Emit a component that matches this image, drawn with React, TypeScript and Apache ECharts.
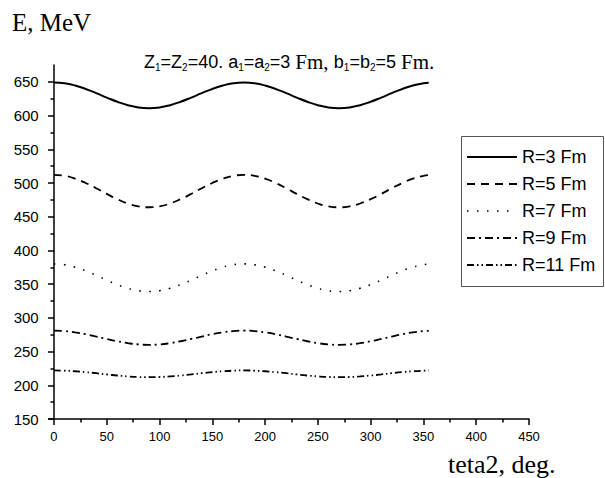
import React, { useEffect, useRef } from 'react';
import * as echarts from 'echarts';

// teta2, deg.
const angles = [0, 10, 20, 30, 40, 50, 60, 70, 80, 90, 100, 110, 120, 130, 140, 150, 160, 170,
  180, 190, 200, 210, 220, 230, 240, 250, 260, 270, 280, 290, 300, 310, 320, 330, 340, 350, 355];

// E, MeV
const r3 = [649, 647.9, 644.6, 639.5, 633.3, 626.7, 620.5, 615.4, 612.1, 611, 612.1, 615.4, 620.5, 626.7, 633.3, 639.5, 644.6, 647.9,
  649, 647.9, 644.6, 639.5, 633.3, 626.7, 620.5, 615.4, 612.1, 611, 612.1, 615.4, 620.5, 626.7, 633.3, 639.5, 644.6, 647.9, 648.7];
const r5 = [512, 510.6, 506.4, 500, 492.2, 483.8, 476, 469.6, 465.4, 464, 465.4, 469.6, 476, 483.8, 492.2, 500, 506.4, 510.6,
  512, 510.6, 506.4, 500, 492.2, 483.8, 476, 469.6, 465.4, 464, 465.4, 469.6, 476, 483.8, 492.2, 500, 506.4, 510.6, 511.6];
const r7 = [380, 378.8, 375.2, 369.8, 363.1, 355.9, 349.3, 343.8, 340.2, 339, 340.2, 343.8, 349.3, 355.9, 363.1, 369.8, 375.2, 378.8,
  380, 378.8, 375.2, 369.8, 363.1, 355.9, 349.3, 343.8, 340.2, 339, 340.2, 343.8, 349.3, 355.9, 363.1, 369.8, 375.2, 378.8, 379.7];
const r9 = [281, 280.4, 278.5, 275.8, 272.3, 268.7, 265.3, 262.5, 260.6, 260, 260.6, 262.5, 265.3, 268.7, 272.3, 275.8, 278.5, 280.4,
  281, 280.4, 278.5, 275.8, 272.3, 268.7, 265.3, 262.5, 260.6, 260, 260.6, 262.5, 265.3, 268.7, 272.3, 275.8, 278.5, 280.4, 280.8];
const r11 = [222, 221.7, 220.8, 219.5, 217.9, 216.1, 214.5, 213.2, 212.3, 212, 212.3, 213.2, 214.5, 216.1, 217.9, 219.5, 220.8, 221.7,
  222, 221.7, 220.8, 219.5, 217.9, 216.1, 214.5, 213.2, 212.3, 212, 212.3, 213.2, 214.5, 216.1, 217.9, 219.5, 220.8, 221.7, 221.9];

const seriesNames = ['R=3 Fm', 'R=5 Fm', 'R=7 Fm', 'R=9 Fm', 'R=11 Fm'];
const seriesValues = [r3, r5, r7, r9, r11];

const xMajorTicks = [0, 50, 100, 150, 200, 250, 300, 350, 400, 450];
const xMinorTicks = [25, 75, 125, 175, 225, 275, 325, 375, 425];
const yMajorTicks = [150, 200, 250, 300, 350, 400, 450, 500, 550, 600, 650];
const yMinorTicks = [175, 225, 275, 325, 375, 425, 475, 525, 575, 625];

const lineDashes: (number[] | null)[] = [null, [8, 6], [1.5, 8.5], [8, 4, 2, 4], [7, 3, 1.5, 3, 1.5, 3]];
const lineWidths = [2, 1.8, 1.6, 1.8, 1.8];

const SANS = 'Liberation Sans, Arial, sans-serif';
const SERIF = 'Liberation Serif, Times New Roman, serif';

// legend box layout
const LEG_X = 461;
const LEG_Y = 136;
const LEG_W = 143;
const LEG_H = 151;
const LEG_ROWS = [157, 184, 211, 238, 265];

export default function App() {
  const ref = useRef<HTMLDivElement>(null);
  useEffect(() => {
    document.body.style.margin = '0';
    const chart = echarts.init(ref.current!, null, { renderer: 'svg' });
    const axisLineStyle = { color: '#000', width: 1.5 };

    const legendGraphics: any[] = [
      {
        type: 'rect',
        shape: { x: LEG_X + 0.5, y: LEG_Y + 0.5, width: LEG_W - 1, height: LEG_H - 1 },
        style: { fill: '#fff', stroke: '#555', lineWidth: 1 },
        z: 10,
      },
    ];
    seriesNames.forEach((name, k) => {
      legendGraphics.push({
        type: 'line',
        shape: { x1: LEG_X + 6, y1: LEG_ROWS[k], x2: LEG_X + 56, y2: LEG_ROWS[k] },
        style: { stroke: '#000', lineWidth: lineWidths[k], lineDash: lineDashes[k] || undefined },
        z: 11,
      });
      legendGraphics.push({
        type: 'text',
        x: LEG_X + 61,
        y: LEG_ROWS[k],
        style: { text: name, fill: '#000', font: `18px ${SANS}`, textVerticalAlign: 'middle', textAlign: 'left' },
        z: 11,
      });
    });

    chart.setOption({
      animation: false,
      backgroundColor: '#fff',
      title: [
        {
          text: 'E, MeV',
          left: 12,
          top: 10,
          padding: 0,
          textStyle: { fontFamily: SERIF, fontSize: 25, fontWeight: 'normal', color: '#000' },
        },
        {
          text:
            '{s|Z}{sub|1}{s|=Z}{sub|2}{s|=40. a}{sub|1}{s|=a}{sub|2}{s|=3 }{t|Fm, }{s|b}{sub|1}{s|=b}{sub|2}{s|=5 }{t|Fm.}',
          left: 144,
          top: 51,
          padding: 0,
          textStyle: {
            fontWeight: 'normal',
            rich: {
              s: { fontFamily: SANS, fontSize: 18, fontWeight: 'normal', color: '#000', lineHeight: 21 },
              t: { fontFamily: SERIF, fontSize: 21, fontWeight: 'normal', color: '#000', lineHeight: 21 },
              sub: { fontFamily: SANS, fontSize: 10, fontWeight: 'normal', color: '#000', lineHeight: 10, padding: [11, 0, 0, 0] },
            },
          },
        },
        {
          text: 'teta2, deg.',
          left: 448,
          top: 451,
          padding: 0,
          textStyle: { fontFamily: SERIF, fontSize: 26, fontWeight: 'normal', color: '#000' },
        },
      ],
      graphic: legendGraphics,
      grid: { left: 48.7, right: 76, top: 65, bottom: 59, outerBoundsMode: 'none' },
      xAxis: [
        {
          type: 'value',
          min: -5,
          max: 450,
          position: 'bottom',
          axisLine: { show: true, lineStyle: axisLineStyle },
          axisTick: { show: true, customValues: xMajorTicks, length: 6, lineStyle: axisLineStyle },
          axisLabel: { customValues: xMajorTicks, fontFamily: SANS, fontSize: 13, color: '#000', margin: 11 },
          splitLine: { show: false },
        },
        {
          type: 'value',
          min: -5,
          max: 450,
          position: 'bottom',
          axisLine: { show: false },
          axisTick: { show: true, customValues: xMinorTicks, length: 3.5, lineStyle: axisLineStyle },
          axisLabel: { show: false },
          splitLine: { show: false },
        },
      ],
      yAxis: [
        {
          type: 'value',
          min: 150,
          max: 675,
          position: 'left',
          axisLine: { show: true, lineStyle: axisLineStyle },
          axisTick: { show: true, customValues: yMajorTicks, length: 6, lineStyle: axisLineStyle },
          axisLabel: { customValues: yMajorTicks, fontFamily: SANS, fontSize: 15, color: '#000', margin: 10 },
          splitLine: { show: false },
        },
        {
          type: 'value',
          min: 150,
          max: 675,
          position: 'left',
          axisLine: { show: false },
          axisTick: { show: true, customValues: yMinorTicks, length: 3.5, lineStyle: axisLineStyle },
          axisLabel: { show: false },
          splitLine: { show: false },
        },
      ],
      series: seriesNames.map((name, k) => ({
        name,
        type: 'line',
        xAxisIndex: 0,
        yAxisIndex: 0,
        smooth: true,
        symbol: 'none',
        silent: true,
        color: '#000',
        lineStyle: { color: '#000', width: lineWidths[k], type: lineDashes[k] || 'solid' },
        emphasis: { disabled: true },
        data: angles.map((a, i) => [a, seriesValues[k][i]]),
      })),
    });
    return () => chart.dispose();
  }, []);
  return <div ref={ref} style={{ width: 605, height: 478, position: 'absolute', left: 0, top: 0 }} />;
}
